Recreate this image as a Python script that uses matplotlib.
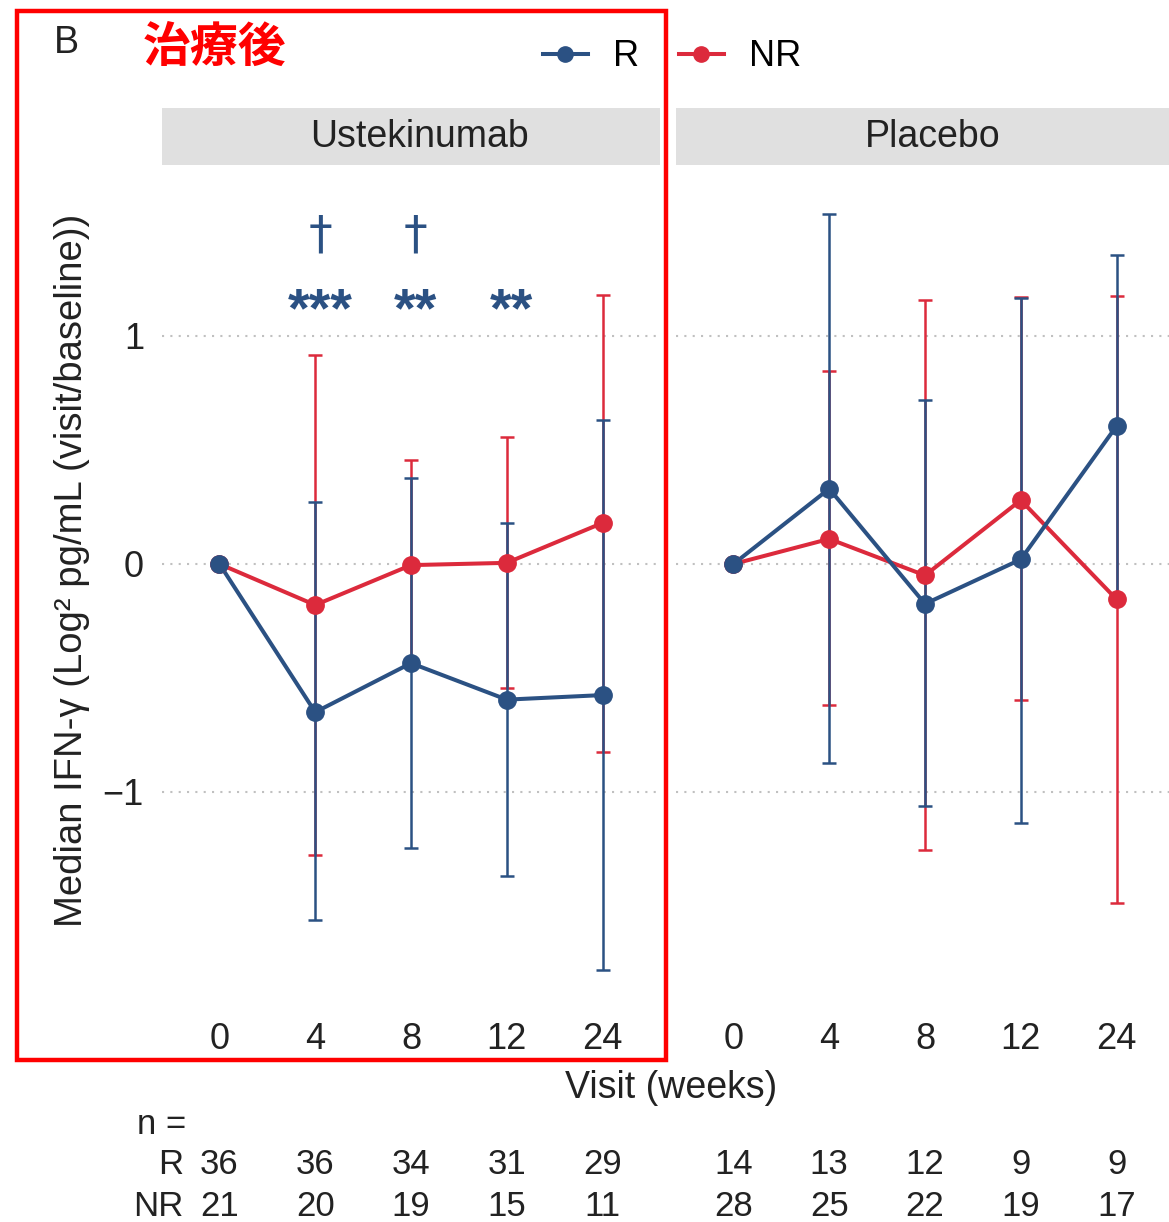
import matplotlib
matplotlib.use("Agg")
import matplotlib.pyplot as plt
from matplotlib.lines import Line2D
from matplotlib.patches import Rectangle
import matplotlib.transforms as mtransforms
import numpy as np

plt.rcParams['font.family'] = ['Liberation Sans', 'DejaVu Sans']

# visits and group sizes
visits = ['0', '4', '8', '12', '24']
ust_n_r = [36, 36, 34, 31, 29]
ust_n_nr = [21, 20, 19, 15, 11]
pbo_n_r = [14, 13, 12, 9, 9]
pbo_n_nr = [28, 25, 22, 19, 17]

# Ustekinumab: median change and range
ust_r_med = [0, -0.65, -0.435, -0.595, -0.575]
ust_r_lo = [0, -1.56, -1.245, -1.37, -1.78]
ust_r_hi = [0, 0.27, 0.375, 0.18, 0.63]
ust_nr_med = [0, -0.18, -0.005, 0.005, 0.18]
ust_nr_lo = [0, -1.275, -0.43, -0.545, -0.825]
ust_nr_hi = [0, 0.915, 0.455, 0.555, 1.18]

# Placebo
pbo_r_med = [0, 0.33, -0.175, 0.02, 0.605]
pbo_r_lo = [0, -0.875, -1.06, -1.135, -0.155]
pbo_r_hi = [0, 1.535, 0.72, 1.165, 1.355]
pbo_nr_med = [0, 0.11, -0.05, 0.28, -0.155]
pbo_nr_lo = [0, -0.62, -1.255, -0.595, -1.485]
pbo_nr_hi = [0, 0.845, 1.16, 1.17, 1.175]

# significance marks (Ustekinumab panel)
dagger_pos = [1, 2]
star_pos = [1, 2, 3]
star_txt = ['***', '**', '**']

BLUE = '#2B5183'
RED = '#DC2A3C'
TXT = '#222222'
W, H = 1169, 1222

fig = plt.figure(figsize=(W / 100, H / 100), dpi=100)

def fx(px):
    return px / W

def fy(py):
    return 1 - py / H

panels = [
    ('Ustekinumab', 162, ust_r_med, ust_r_lo, ust_r_hi, ust_nr_med, ust_nr_lo, ust_nr_hi),
    ('Placebo', 676, pbo_r_med, pbo_r_lo, pbo_r_hi, pbo_nr_med, pbo_nr_lo, pbo_nr_hi),
]
axes = []
x = np.arange(len(visits))
for title, left, rm, rl, rh, nm, nl, nh in panels:
    ax = fig.add_axes([fx(left), fy(1004), fx(498), (1004 - 165) / H])
    axes.append(ax)
    # error bars under lines, lines under points
    for med, lo, hi, col, z in [(nm, nl, nh, RED, 2), (rm, rl, rh, BLUE, 2.1)]:
        med = np.array(med)
        yerr = [med - np.array(lo), np.array(hi) - med]
        ax.errorbar(x, med, yerr=yerr, fmt='none', ecolor=col, elinewidth=1.8,
                    capsize=5, capthick=1.8, zorder=z)
    ax.plot(x, nm, color=RED, lw=2.9, zorder=3)
    ax.plot(x, rm, color=BLUE, lw=2.9, zorder=3.1)
    ax.plot(x, nm, 'o', color=RED, ms=12.5, zorder=4)
    ax.plot(x, rm, 'o', color=BLUE, ms=12.5, zorder=4.1)
    for yv in [-1, 0, 1]:
        ax.axhline(yv, color='#c0c0c0', lw=1.5, ls=(0, (1, 3)), zorder=1)
    ax.set_xlim(-0.6, 4.6)
    ax.set_ylim(-1.93, 1.75)
    ax.set_xticks(x)
    ax.set_xticklabels(visits, fontsize=26, color=TXT)
    ax.tick_params(axis='both', length=0, pad=13)
    ax.set_yticks([-1, 0, 1])
    ax.set_yticklabels(['\u22121', '0', '1'], fontsize=26, color=TXT)
    for s in ax.spines.values():
        s.set_visible(False)
    fig.add_artist(Rectangle((fx(left), fy(165)), fx(498), (165 - 108) / H,
                             transform=fig.transFigure, facecolor='#e0e0e0',
                             edgecolor='none'))
    fig.text(fx(left + 257), fy(137), title, ha='center', va='center',
             fontsize=27, color=TXT)

axes[1].set_yticklabels([])

# significance marks
for p in dagger_pos:
    axes[0].text(p + 0.05, 1.44, '\u2020', ha='center', va='center', fontsize=34,
                 color=BLUE, family='DejaVu Sans')
for p, t in zip(star_pos, star_txt):
    axes[0].text(p + 0.05, 1.105, t, ha='center', va='center', fontsize=40,
                 color=BLUE, fontweight='bold', family='Liberation Sans')

# axis titles
fig.text(fx(72), fy(570), 'Median IFN-\u03b3 (Log\u00b2 pg/mL (visit/baseline))',
         rotation=90, ha='center', va='center', fontsize=27.5, color=TXT)
fig.text(fx(671), fy(1088), 'Visit (weeks)', ha='center', va='center',
         fontsize=27, color=TXT)

# n table under the panels
fig.text(fx(137), fy(1125), 'n =', ha='left', va='center', fontsize=25, color=TXT)
fig.text(fx(183), fy(1164), 'R', ha='right', va='center', fontsize=25, color=TXT)
fig.text(fx(183), fy(1206), 'NR', ha='right', va='center', fontsize=25, color=TXT)
for ax, nr, nnr in [(axes[0], ust_n_r, ust_n_nr), (axes[1], pbo_n_r, pbo_n_nr)]:
    tr = mtransforms.blended_transform_factory(ax.transData, fig.transFigure)
    for i in range(len(visits)):
        fig.text(i, fy(1164), str(nr[i]), transform=tr, ha='center', va='center',
                 fontsize=25, color=TXT)
        fig.text(i, fy(1206), str(nnr[i]), transform=tr, ha='center', va='center',
                 fontsize=25, color=TXT)

# legend
handles = [Line2D([], [], color=BLUE, lw=2.9, marker='o', ms=11),
           Line2D([], [], color=RED, lw=2.9, marker='o', ms=11)]
fig.legend(handles, ['R', 'NR'], loc='center', bbox_to_anchor=(fx(672), fy(57)),
           ncol=2, frameon=False, fontsize=26, handlelength=1.25,
           columnspacing=1.1, handletextpad=0.7)

# panel label and highlight box
fig.text(fx(54), fy(43), 'B', ha='left', va='center', fontsize=27, color=TXT)
fig.text(fx(143), fy(47), '治療後', ha='left', va='center', fontsize=34.5,
         color='#ff0000', fontweight='bold', family=['Noto Sans CJK JP', 'DejaVu Sans'])
fig.add_artist(Rectangle((fx(17), fy(1060)), fx(649), (1060 - 11) / H,
                         transform=fig.transFigure, fill=False,
                         edgecolor='#ff0000', lw=3.2))

fig.savefig('out.png', dpi=100)
